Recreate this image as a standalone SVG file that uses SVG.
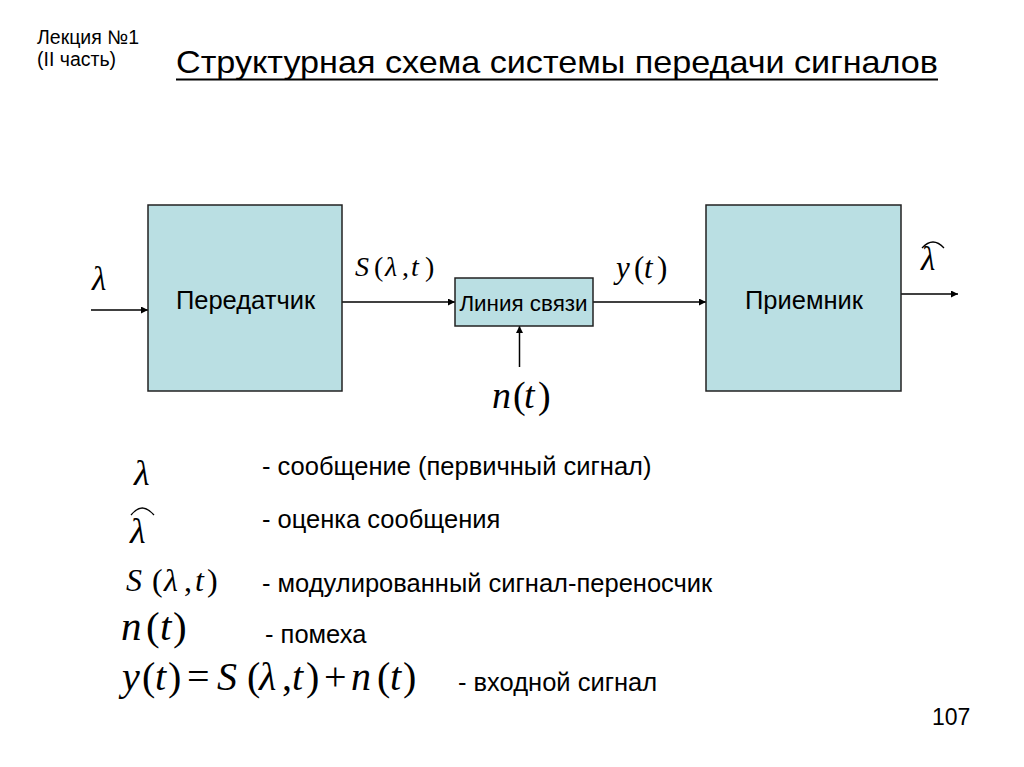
<svg xmlns="http://www.w3.org/2000/svg" width="1024" height="767" viewBox="0 0 1024 767">
<style>
.sans{font-family:"Liberation Sans",Arial,sans-serif;fill:#000}
.m{font-family:"Liberation Serif","Times New Roman",serif;fill:#000}
.i{font-style:italic}
.box{fill:#BADFE3;stroke:#222;stroke-width:1.5}
.ln{stroke:#000;stroke-width:1.5;fill:none}
.hat{stroke:#000;stroke-width:1.3;fill:none}
</style>
<defs>
<marker id="ah" viewBox="0 0 10 10" refX="10" refY="5" markerWidth="9" markerHeight="7" markerUnits="userSpaceOnUse" orient="auto">
<path d="M0,0 L10,5 L0,10 z" fill="#000"/>
</marker>
</defs>
<rect width="1024" height="767" fill="#fff"/>
<g id="header">
<text class="sans" x="37" y="44" font-size="19.5">Лекция №1</text>
<text class="sans" x="37" y="66" font-size="19.5">(II часть)</text>
<text class="sans" x="176" y="73" font-size="32" textLength="762" lengthAdjust="spacingAndGlyphs">Структурная схема системы передачи сигналов</text>
<line x1="176" y1="79.5" x2="938" y2="79.5" stroke="#000" stroke-width="2"/>
</g>
<g id="connectors">
<line class="ln" x1="91" y1="310" x2="148" y2="310" marker-end="url(#ah)"/>
<line class="ln" x1="342" y1="302" x2="455" y2="302" marker-end="url(#ah)"/>
<line class="ln" x1="593" y1="302" x2="706" y2="302" marker-end="url(#ah)"/>
<line class="ln" x1="901" y1="294" x2="958" y2="294" marker-end="url(#ah)"/>
<line class="ln" x1="519.5" y1="367" x2="519.5" y2="326" marker-end="url(#ah)"/>
</g>
<g id="transmitter">
<rect class="box" x="148" y="205" width="194" height="186"/>
<text class="sans" x="245.5" y="309" font-size="25.5" text-anchor="middle">Передатчик</text>
</g>
<g id="channel">
<rect class="box" x="455" y="278" width="138" height="48"/>
<text class="sans" x="523.5" y="311" font-size="22.4" text-anchor="middle">Линия связи</text>
</g>
<g id="receiver">
<rect class="box" x="706" y="205" width="195" height="186"/>
<text class="sans" x="804" y="309" font-size="25.5" text-anchor="middle">Приемник</text>
</g>
<g id="labels">
<text class="m i" x="92" y="290" font-size="33">λ</text>
<text class="m" y="276" font-size="28"><tspan class="i" x="355">S</tspan><tspan x="374">(</tspan><tspan class="i" x="385">λ</tspan><tspan x="402">,</tspan><tspan class="i" x="411">t</tspan><tspan x="425">)</tspan></text>
<text class="m" y="278" font-size="31"><tspan class="i" x="616">y</tspan><tspan x="634">(</tspan><tspan class="i" x="644">t</tspan><tspan x="657">)</tspan></text>
<text class="m i" x="921" y="270" font-size="33">λ</text>
<path class="hat" d="M922,248 Q933,236 944,248"/>
<text class="m" y="408" font-size="38"><tspan class="i" x="492">n</tspan><tspan x="513">(</tspan><tspan class="i" x="524">t</tspan><tspan x="538">)</tspan></text>
</g>
<g id="legend">
<text class="m i" x="134" y="485" font-size="36">λ</text>
<text class="m i" x="130" y="543" font-size="36">λ</text>
<path class="hat" d="M131,515 Q142,501 154,515"/>
<text class="m" y="591" font-size="32"><tspan class="i" x="126">S</tspan><tspan x="152">(</tspan><tspan class="i" x="164">λ</tspan><tspan x="184">,</tspan><tspan class="i" x="195">t</tspan><tspan x="207">)</tspan></text>
<text class="m" y="640" font-size="41"><tspan class="i" x="121">n</tspan><tspan x="146">(</tspan><tspan class="i" x="160">t</tspan><tspan x="173">)</tspan></text>
<text class="m" y="690" font-size="40"><tspan class="i" x="122">y</tspan><tspan x="142">(</tspan><tspan class="i" x="155">t</tspan><tspan x="168">)</tspan><tspan x="187">=</tspan><tspan class="i" x="217">S</tspan><tspan x="247">(</tspan><tspan class="i" x="259">λ</tspan><tspan x="282">,</tspan><tspan class="i" x="292">t</tspan><tspan x="306">)</tspan><tspan x="324">+</tspan><tspan class="i" x="351">n</tspan><tspan x="377">(</tspan><tspan class="i" x="390">t</tspan><tspan x="403">)</tspan></text>
<text class="sans" x="262" y="475" font-size="25.5">- сообщение (первичный сигнал)</text>
<text class="sans" x="262" y="528" font-size="25.5">- оценка сообщения</text>
<text class="sans" x="262" y="592" font-size="25.5">- модулированный сигнал-переносчик</text>
<text class="sans" x="265" y="643" font-size="25.5">- помеха</text>
<text class="sans" x="458" y="691" font-size="25.5">- входной сигнал</text>
<text class="sans" x="932" y="725" font-size="23">107</text>
</g>
</svg>
